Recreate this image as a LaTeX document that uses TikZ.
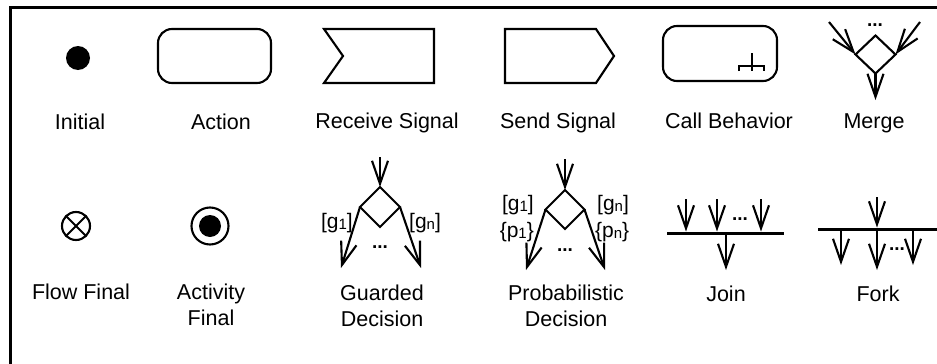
\documentclass[tikz,border=0pt]{standalone}
\usepackage{fontspec}
\setmainfont{Liberation Sans}
\usetikzlibrary{arrows.meta,shapes.geometric}
\newcommand{\mysub}[1]{\raisebox{-1.5pt}{\fontsize{15}{15}\selectfont #1}}
\begin{document}
\begin{tikzpicture}[x=1pt,y=-1pt,
  ln/.style={line width=2.1pt},
  lbl/.style={font=\fontsize{21.5}{26}\selectfont, inner sep=0pt, anchor=base, align=center},
  small/.style={font=\fontsize{21}{23}\selectfont, inner sep=0pt},
  dots/.style={font=\bfseries\fontsize{19}{23}\selectfont, inner sep=0pt},
  arr/.style={ln, -{Straight Barb[length=23pt,width=16pt,line width=2.1pt]}},
  dec/.style={draw, ln, diamond, inner sep=0pt, outer sep=0pt, minimum width=40pt, minimum height=40pt},
  bar/.style={fill=black, draw=none, inner sep=0pt, outer sep=0pt, minimum height=3pt},
  rbox/.style={draw, ln, rounded corners=14pt, inner sep=0pt, outer sep=0pt}
]
\useasboundingbox (0,0) rectangle (937,364);
% frame (top and left edges)
\draw[line width=3pt] (10.8,364) -- (10.8,7.5) -- (937,7.5);

% Initial
\node[circle, fill=black, minimum size=24pt, inner sep=0pt] (init) at (78,58) {};
\node[lbl] (linit) at (80,129) {Initial};

% Action
\node[rbox, minimum width=113pt, minimum height=54pt] (act) at (214.5,56) {};
\node[lbl] (lact) at (221,129) {Action};

% Receive signal
\draw[ln, line join=miter] (324,29) -- (434,29) -- (434,83) -- (324,83) -- (343,56) -- cycle;
\node[lbl] (lrec) at (387,128) {Receive Signal};

% Send signal
\draw[ln, line join=miter] (505,29) -- (596,29) -- (614,56) -- (596,83) -- (505,83) -- cycle;
\node[lbl] (lsend) at (558,128) {Send Signal};

% Call behavior
\node[rbox, minimum width=114pt, minimum height=55pt] (call) at (720,53.5) {};
\draw[ln] (739,71) -- (739,66) -- (764,66) -- (764,71);
\draw[ln] (752,53) -- (752,71);
\node[lbl] (lcall) at (729,128) {Call Behavior};

% Merge
\node[dec, minimum width=40pt, minimum height=38pt] (mg) at (875.5,54.5) {};
\coordinate (mgl) at (829,22);
\coordinate (mgr) at (920,22);
\coordinate (mgo) at (875.5,100);
\draw[arr] (mgl) -- (mg.west);
\draw[arr] (mgr) -- (mg.east);
\draw[arr] (mg.south) -- (mgo);
\node[dots] (mgd) at (875,25) {...};
\node[lbl] (lmg) at (874,128) {Merge};

% Flow final
\node[circle, draw, ln, minimum size=28pt, inner sep=0pt, outer sep=0pt] (ff) at (76,226) {};
\draw[ln] (ff.north west) -- (ff.south east);
\draw[ln] (ff.north east) -- (ff.south west);
\node[lbl] (lff) at (81,299) {Flow Final};

% Activity final
\node[circle, draw, ln, minimum size=37pt, inner sep=0pt] (af) at (210,226) {};
\node[circle, fill=black, minimum size=22pt, inner sep=0pt] (afi) at (210,226) {};
\node[lbl] (laf) at (211,325) {Activity\\Final};

% Guarded decision
\node[dec] (gd) at (380,207) {};
\coordinate (gdi) at (380,157);
\coordinate (gdl) at (341,268);
\coordinate (gdr) at (421,268);
\draw[arr] (gdi) -- (gd.north);
\draw[arr] (gd.west) -- (gdl);
\draw[arr] (gd.east) -- (gdr);
\node[small, anchor=east] (g1) at (353,223) {[g\mysub{1}]};
\node[small, anchor=west] (gn) at (409,223) {[g\mysub{n}]};
\node[dots] (gdd) at (380,247) {...};
\node[lbl] (lgd) at (382,326) {Guarded\\Decision};

% Probabilistic decision
\node[dec, minimum width=39pt, minimum height=39pt] (pd) at (565,209.5) {};
\coordinate (pdi) at (565,159);
\coordinate (pdl) at (526,270);
\coordinate (pdr) at (605,270);
\draw[arr] (pdi) -- (pd.north);
\draw[arr] (pd.west) -- (pdl);
\draw[arr] (pd.east) -- (pdr);
\node[small, anchor=east] (pg1) at (534,205) {[g\mysub{1}]};
\node[small, anchor=east] (pp1) at (534,232) {\{p\mysub{1}\}};
\node[small, anchor=west] (pgn) at (597,205) {[g\mysub{n}]};
\node[small, anchor=west] (ppn) at (595,232) {\{p\mysub{n}\}};
\node[dots] (pdd) at (565,250) {...};
\node[lbl] (lpd) at (566,326) {Probabilistic\\Decision};

% Join
\node[bar, minimum width=117pt] (join) at (725.5,233) {};
\coordinate (ja) at (686,199);
\coordinate (jb) at (717,199);
\coordinate (jc) at (761,199);
\coordinate (jo) at (726,270);
\draw[arr] (ja) -- (ja |- join.north);
\draw[arr] (jb) -- (jb |- join.north);
\draw[arr] (jc) -- (jc |- join.north);
\draw[arr] (jo |- join.south) -- (jo);
\node[dots] (jd) at (740,219) {...};
\node[lbl] (ljoin) at (726,301) {Join};

% Fork
\node[bar, minimum width=119pt] (fork) at (877.5,229) {};
\coordinate (fi) at (877,197);
\coordinate (fa) at (841,265);
\coordinate (fb) at (877,270);
\coordinate (fc) at (913,265);
\draw[arr] (fi) -- (fi |- fork.north);
\draw[arr] (fa |- fork.south) -- (fa);
\draw[arr] (fb |- fork.south) -- (fb);
\draw[arr] (fc |- fork.south) -- (fc);
\node[dots] (fd) at (897,249) {...};
\node[lbl] (lfork) at (878,301) {Fork};
\end{tikzpicture}
\end{document}
